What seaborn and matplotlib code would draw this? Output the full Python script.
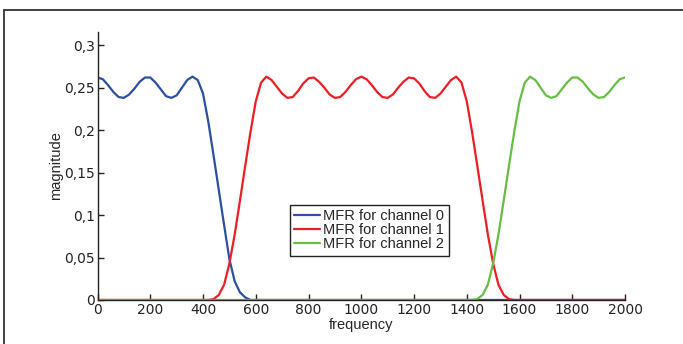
import matplotlib
matplotlib.use("Agg")
import matplotlib.pyplot as plt
from matplotlib.lines import Line2D
import seaborn as sns
import pandas as pd

# ---- data ----
frequency = list(range(0, 2001, 20))

channel0 = [0.262, 0.260, 0.253, 0.245, 0.239, 0.238, 0.242, 0.249, 0.257, 0.262,
            0.262, 0.256, 0.248, 0.240, 0.238, 0.241, 0.250, 0.259, 0.263, 0.259,
            0.243, 0.210, 0.170, 0.129, 0.088, 0.048, 0.022, 0.009, 0.003, 0.0] + [0.0] * 71

channel1 = [0.0] * 22 + [
            0.001, 0.006, 0.018, 0.043, 0.077, 0.117, 0.158, 0.198, 0.234, 0.256,
            0.263, 0.259, 0.251, 0.243, 0.238, 0.239, 0.246, 0.255, 0.261, 0.262,
            0.257, 0.250, 0.242, 0.238, 0.239, 0.245, 0.253, 0.260, 0.263, 0.260,
            0.253, 0.245, 0.239, 0.238, 0.242, 0.250, 0.257, 0.262, 0.261, 0.255,
            0.246, 0.239, 0.238, 0.243, 0.251, 0.259, 0.263, 0.256, 0.234, 0.198,
            0.158, 0.117, 0.077, 0.043, 0.018, 0.006, 0.001] + [0.0] * 22

channel2 = [0.0] * 72 + [
            0.001, 0.006, 0.018, 0.043, 0.077, 0.117, 0.158, 0.198, 0.234, 0.256,
            0.263, 0.259, 0.250, 0.241, 0.238, 0.240, 0.248, 0.256, 0.262, 0.262,
            0.257, 0.249, 0.242, 0.238, 0.239, 0.245, 0.253, 0.260, 0.262]

series_names = ["MFR for channel 0", "MFR for channel 1", "MFR for channel 2"]
series_colors = ["#2d4fa3", "#ee1c25", "#67bd45"]

xticks = list(range(0, 2001, 200))
yticks = [0, 0.05, 0.1, 0.15, 0.2, 0.25, 0.3]
ytick_labels = ["0", "0,05", "0,1", "0,15", "0,2", "0,25", "0,3"]

df = pd.DataFrame({
    "frequency": frequency * 3,
    "magnitude": channel0 + channel1 + channel2,
    "series": [series_names[0]] * len(frequency) + [series_names[1]] * len(frequency)
              + [series_names[2]] * len(frequency),
})

sns.set_style("ticks")
plt.rcParams["font.family"] = ["Liberation Sans Narrow", "DejaVu Sans"]

fig = plt.figure(figsize=(6.83, 3.44), dpi=100)
ax = fig.add_axes([0.1428, 0.128, 0.7723, 0.780])

sns.lineplot(data=df, x="frequency", y="magnitude", hue="series",
             palette=dict(zip(series_names, series_colors)), linewidth=1.6,
             ax=ax, legend=False)

ax.set_xlim(0, 2000)
ax.set_ylim(0, 0.316)
ax.set_xticks(xticks)
ax.set_xticklabels([str(t) for t in xticks])
ax.set_yticks(yticks)
ax.set_yticklabels(ytick_labels)
ax.tick_params(direction="in", length=4, width=1, labelsize=10, pad=2, colors="#222222")
for s in ["top", "right"]:
    ax.spines[s].set_visible(False)
for s in ["left", "bottom"]:
    ax.spines[s].set_linewidth(1.0)
    ax.spines[s].set_color("#222222")

ax.set_xlabel("frequency", fontsize=10.5, family=["Liberation Sans", "DejaVu Sans"], labelpad=1)
ax.set_ylabel("magnitude", fontsize=10.5, family=["Liberation Sans", "DejaVu Sans"], labelpad=1)

handles = [Line2D([0], [0], color=c, lw=1.6) for c in series_colors]
leg = ax.legend(handles, series_names, loc="center", bbox_to_anchor=(0.515, 0.259),
                frameon=True, fancybox=False, edgecolor="#222222", framealpha=1,
                prop={"family": ["Liberation Sans", "DejaVu Sans"], "size": 10.5},
                handlelength=1.8, handletextpad=0.2, labelspacing=0.0,
                borderpad=0.3, borderaxespad=0)
leg.get_frame().set_linewidth(1.0)

# figure frame (top and left edges)
fig.add_artist(Line2D([4 / 683, 1.0], [1 - 9.5 / 344, 1 - 9.5 / 344],
                      transform=fig.transFigure, color="#333333", lw=1.3))
fig.add_artist(Line2D([4 / 683, 4 / 683], [0, 1 - 9.5 / 344],
                      transform=fig.transFigure, color="#333333", lw=1.3))

fig.savefig("out.png", dpi=100)
